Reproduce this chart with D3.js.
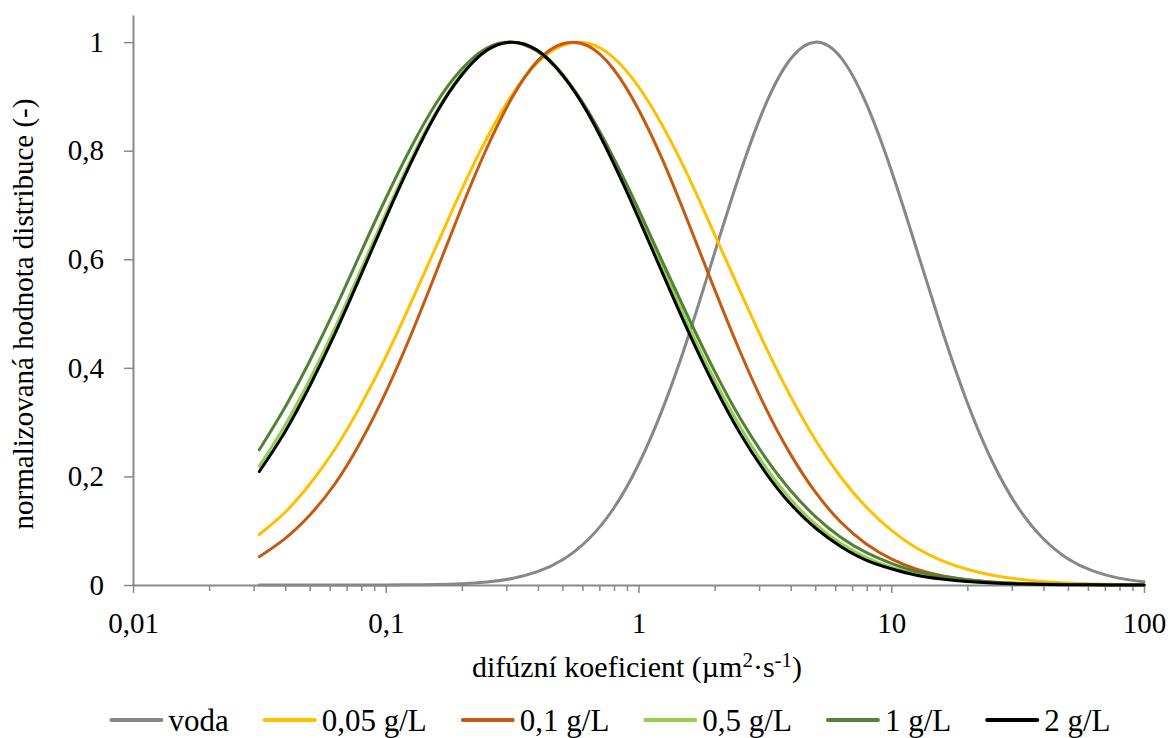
<!DOCTYPE html>
<html>
<head>
<meta charset="utf-8">
<script src="https://cdn.jsdelivr.net/npm/d3@7"></script>
<style>
  body { margin: 0; background: #fff; }
  text { font-family: "Liberation Serif", "Times New Roman", serif; fill: #000; }
</style>
</head>
<body>
<div class="graphic"></div>
<script>

const w_svg = 1170;
const h_svg = 738;

// difuzni koeficient (um2/s), log krok 0.1
const koeficient = [0.0316, 0.0398, 0.0501, 0.0631, 0.0794, 0.1, 0.1259, 0.1585, 0.1995, 0.2512,
  0.3162, 0.3981, 0.5012, 0.631, 0.7943, 1, 1.259, 1.585, 1.995, 2.512,
  3.162, 3.981, 5.012, 6.31, 7.943, 10, 12.59, 15.85, 19.95, 25.12,
  31.62, 39.81, 50.12, 63.1, 79.43, 100];

const voda = [0, 0, 0, 0, 0, 0.0001, 0.0004, 0.001, 0.0025, 0.0057,
  0.012, 0.0245, 0.0466, 0.0833, 0.140, 0.222, 0.330, 0.462, 0.610, 0.756,
  0.882, 0.968, 1.000, 0.972, 0.888, 0.764, 0.619, 0.471, 0.337, 0.227,
  0.144, 0.086, 0.048, 0.0255, 0.0127, 0.0059];
const c005 = [0.093, 0.133, 0.186, 0.251, 0.330, 0.420, 0.520, 0.624, 0.728, 0.823,
  0.903, 0.962, 0.994, 0.998, 0.972, 0.918, 0.842, 0.750, 0.647, 0.543,
  0.442, 0.349, 0.267, 0.199, 0.144, 0.101, 0.068, 0.045, 0.029, 0.018,
  0.011, 0.0063, 0.0036, 0.002, 0.0011, 0.0006];
const c01 = [0.052, 0.085, 0.129, 0.187, 0.263, 0.355, 0.461, 0.577, 0.695, 0.805,
  0.898, 0.965, 0.997, 0.993, 0.951, 0.876, 0.778, 0.664, 0.546, 0.432,
  0.329, 0.242, 0.171, 0.116, 0.076, 0.048, 0.029, 0.017, 0.0095, 0.0051,
  0.0027, 0.0013, 0.0006, 0.0003, 0.0001, 0.0001];
const c05 = [0.219, 0.293, 0.379, 0.475, 0.579, 0.684, 0.784, 0.872, 0.941, 0.985,
  1.000, 0.985, 0.941, 0.872, 0.784, 0.684, 0.579, 0.475, 0.379, 0.293,
  0.219, 0.159, 0.112, 0.077, 0.051, 0.033, 0.021, 0.0125, 0.0073, 0.0042,
  0.0023, 0.0012, 0.0007, 0.0003, 0.0002, 0.0001];
const c1 = [0.249, 0.326, 0.413, 0.509, 0.611, 0.712, 0.806, 0.888, 0.950, 0.989,
  1.000, 0.983, 0.939, 0.873, 0.788, 0.692, 0.590, 0.490, 0.395, 0.309,
  0.236, 0.175, 0.126, 0.088, 0.060, 0.040, 0.025, 0.016, 0.0096, 0.0057,
  0.0033, 0.0018, 0.001, 0.0005, 0.0003, 0.0001];
const c2 = [0.209, 0.281, 0.367, 0.464, 0.569, 0.676, 0.778, 0.869, 0.939, 0.985,
  1.000, 0.985, 0.939, 0.869, 0.778, 0.676, 0.569, 0.464, 0.367, 0.281,
  0.209, 0.150, 0.105, 0.071, 0.046, 0.030, 0.018, 0.011, 0.0063, 0.0035,
  0.0019, 0.001, 0.0005, 0.0003, 0.0001, 0.0001];

const seriesNames = ["voda", "0,05 g/L", "0,1 g/L", "0,5 g/L", "1 g/L", "2 g/L"];
const seriesValues = [voda, c005, c01, c05, c1, c2];
const seriesColors = ["#878787", "#ffc000", "#c55a11", "#92d050", "#548235", "#000000"];

const xTicks = [0.01, 0.1, 1, 10, 100];
const yTicks = [0, 0.2, 0.4, 0.6, 0.8, 1];

const plotLeft = 133, plotRight = 1144, plotTop = 15, plotBottom = 585;
const axisColor = "#898989";

var x = d3.scaleLog().domain([0.01, 100]).range([plotLeft, plotRight]);
var y = d3.scaleLinear().domain([0, 1.05]).range([plotBottom, plotTop]);

var svg = d3.select(".graphic")
  .append("svg")
  .attr("width", w_svg)
  .attr("height", h_svg);

var comma = (d) => String(+d.toFixed(2)).replace(".", ",");

// vedlejsi carky na ose x
var minor = [];
xTicks.slice(0, -1).forEach(t => {
  for (let k = 2; k < 10; k++) minor.push(t * k);
});

svg.append("g")
  .attr("transform", "translate(0," + plotBottom + ")")
  .call(d3.axisBottom(x).tickValues(minor).tickSize(6).tickFormat(""))
  .call(g => g.select(".domain").remove())
  .call(g => g.selectAll("line").attr("stroke", axisColor).attr("stroke-width", 1.5));

svg.append("g")
  .attr("transform", "translate(0," + plotBottom + ")")
  .call(d3.axisBottom(x).tickValues(xTicks).tickSize(8).tickSizeOuter(0).tickPadding(19).tickFormat(comma))
  .call(g => g.select(".domain").attr("stroke", axisColor).attr("stroke-width", 2))
  .call(g => g.selectAll("line").attr("stroke", axisColor).attr("stroke-width", 1.5))
  .call(g => g.selectAll("text").attr("font-size", 29).attr("font-family", "Liberation Serif").attr("fill", "#000"));

svg.append("g")
  .attr("transform", "translate(" + plotLeft + ",0)")
  .call(d3.axisLeft(y).tickValues(yTicks).tickSize(9).tickSizeOuter(0).tickPadding(20).tickFormat(comma))
  .call(g => g.select(".domain").attr("stroke", axisColor).attr("stroke-width", 2))
  .call(g => g.selectAll("line").attr("stroke", axisColor).attr("stroke-width", 1.5))
  .call(g => g.selectAll("text").attr("font-size", 29).attr("font-family", "Liberation Serif").attr("fill", "#000"));

var line = d3.line()
  .x((d, i) => x(koeficient[i]))
  .y(d => y(Math.max(0, d)))
  .curve(d3.curveNatural);

svg.selectAll("path.serie")
  .data(seriesValues)
  .enter()
  .append("path")
  .attr("class", "serie")
  .attr("d", line)
  .attr("fill", "none")
  .attr("stroke", (d, i) => seriesColors[i])
  .attr("stroke-width", 3)
  .attr("stroke-linejoin", "round")
  .attr("stroke-linecap", "round");

// popisky os
svg.append("text")
  .attr("transform", "translate(33,314) rotate(-90)")
  .attr("text-anchor", "middle")
  .attr("font-size", 29)
  .text("normalizovaná hodnota distribuce (-)");

var xTitle = svg.append("text")
  .attr("x", 637)
  .attr("y", 677)
  .attr("text-anchor", "middle")
  .attr("font-size", 30);
xTitle.append("tspan").text("difúzní koeficient (µm");
xTitle.append("tspan").attr("font-size", 21).attr("dy", -10).text("2");
xTitle.append("tspan").attr("dy", 10).text("·s");
xTitle.append("tspan").attr("font-size", 21).attr("dy", -10).text("-1");
xTitle.append("tspan").attr("dy", 10).text(")");

// legenda
var legend = svg.append("g");
var lx = 0;
seriesNames.forEach((name, i) => {
  var item = legend.append("g").attr("transform", "translate(" + lx + ",0)");
  item.append("line")
    .attr("x1", 2).attr("x2", 52)
    .attr("y1", 0).attr("y2", 0)
    .attr("stroke", seriesColors[i])
    .attr("stroke-width", 4)
    .attr("stroke-linecap", "round");
  var t = item.append("text")
    .attr("x", 59)
    .attr("y", 11)
    .attr("font-size", 31)
    .text(name);
  lx += 59 + t.node().getComputedTextLength() + 34;
});
lx -= 34;
legend.attr("transform", "translate(" + (610 - lx / 2) + ",720)");

</script>
</body>
</html>
